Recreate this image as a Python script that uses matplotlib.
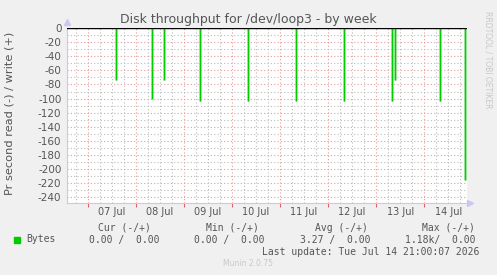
import numpy as np
import matplotlib.pyplot as plt
import matplotlib.dates as mdates

# read spikes (bytes per second, drawn negative), write stays at 0
spike_times = np.array(['2026-07-07T14:00', '2026-07-08T08:00', '2026-07-08T14:00',
                        '2026-07-09T08:00', '2026-07-10T08:00', '2026-07-11T08:00',
                        '2026-07-12T08:00', '2026-07-13T08:00', '2026-07-13T09:30',
                        '2026-07-14T08:00', '2026-07-14T20:30'], dtype='datetime64[m]')
spike_read = np.array([73, 100, 73, 103, 103, 103, 103, 103, 73, 103, 215])
day_labels = ['07 Jul', '08 Jul', '09 Jul', '10 Jul', '11 Jul', '12 Jul', '13 Jul', '14 Jul']
days = np.arange(np.datetime64('2026-07-07'), np.datetime64('2026-07-15'))

x_start = np.datetime64('2026-07-06T13:40')
x_end = np.datetime64('2026-07-14T21:20')

fig = plt.figure(figsize=(4.97, 2.75), dpi=100, facecolor='#f0f0f0')
ax = fig.add_axes([67/497, 72/275, 400/497, 175/275], facecolor='white')

t = spike_times.astype('datetime64[s]').astype(object)
ax.vlines(t, -spike_read, 0, color='#8ee88e', lw=1.8, zorder=2)
ax.vlines(t, -spike_read, 0, color='#00cc00', lw=0.9, zorder=3)
ax.axhline(0, color='black', lw=1.0, zorder=4)

ax.set_xlim(x_start.astype(object), x_end.astype(object))
ax.set_ylim(-248, 0)

# grid: minor every 6h / 10 units gray, major every day / 20 units red
ax.xaxis.set_major_locator(mdates.DayLocator())
ax.xaxis.set_minor_locator(mdates.HourLocator(byhour=[6, 12, 18]))
ax.set_yticks(np.arange(-240, 1, 20))
ax.set_yticks(np.arange(-240, 1, 10), minor=True)
ax.grid(which='minor', color='#bdbdbd', ls=(0, (1, 2)), lw=0.8)
ax.grid(which='major', color='#ea9a9a', ls=(0, (1, 2)), lw=0.8)
ax.set_axisbelow(True)

ax.xaxis.set_ticklabels([])
for d, lab in zip(days, day_labels):
    ax.text((d + np.timedelta64(12, 'h')).astype('datetime64[s]').astype(object), -254, lab,
            ha='center', va='top', fontsize=7, color='#555555')
ax.tick_params(axis='x', which='major', length=3, color='#e06060', direction='out')
ax.tick_params(axis='x', which='minor', length=0)
ax.tick_params(axis='y', which='both', length=0, labelsize=7.5, labelcolor='#555555', pad=4)
ax.set_yticklabels([str(v) for v in np.arange(-240, 1, 20)])

for s in ['top', 'right']:
    ax.spines[s].set_visible(False)
for s in ['left', 'bottom']:
    ax.spines[s].set_color('#c8c8f0')
ax.plot([0], [1.035], marker='^', color='#c8c8f0', ms=5, transform=ax.transAxes, clip_on=False)
ax.plot([1.008], [0], marker='>', color='#c8c8f0', ms=5, transform=ax.transAxes, clip_on=False)

fig.text(248.5/497, 1 - 19/275, 'Disk throughput for /dev/loop3 - by week', ha='center', va='center',
         fontsize=9, color='#555555')
fig.text(10/497, 1 - 113.5/275, 'Pr second read (-) / write (+)', rotation=90, ha='center', va='center',
         fontsize=8.2, color='#555555')
fig.text(488/497, 1 - 60/275, 'RRDTOOL / TOBI OETIKER', rotation=270, ha='center', va='center',
         fontsize=5.5, color='#c8c8c8')

mono = dict(family='DejaVu Sans Mono', fontsize=7, color='#555555', va='center')
fig.text(98.5/497, 1 - 227.7/275, 'Cur (-/+)', **mono)
fig.text(206.5/497, 1 - 227.7/275, 'Min (-/+)', **mono)
fig.text(315/497, 1 - 227.7/275, 'Avg (-/+)', **mono)
fig.text(422.5/497, 1 - 227.7/275, 'Max (-/+)', **mono)
fig.patches.append(plt.Rectangle((14/497, 1 - 242.5/275), 6/497, 6/275, color='#00cc00',
                                 transform=fig.transFigure, figure=fig))
fig.text(26.5/497, 1 - 239.5/275, 'Bytes', **mono)
fig.text(89/497, 1 - 239.5/275, '0.00 /  0.00', **mono)
fig.text(194/497, 1 - 239.5/275, '0.00 /  0.00', **mono)
fig.text(299.5/497, 1 - 239.5/275, '3.27 /  0.00', **mono)
fig.text(405/497, 1 - 239.5/275, '1.18k/  0.00', **mono)
fig.text(261.5/497, 1 - 251.7/275, 'Last update: Tue Jul 14 21:00:07 2026', **mono)
fig.text(248/497, 1 - 264/275, 'Munin 2.0.75', ha='center', va='center', fontsize=5.5, color='#c8c8c8')

fig.savefig('out.png', dpi=100, facecolor=fig.get_facecolor())
